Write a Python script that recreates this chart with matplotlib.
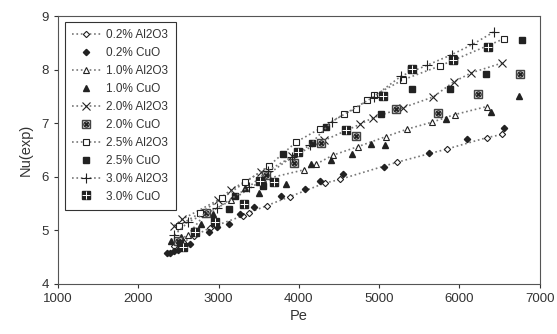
import matplotlib.pyplot as plt
from matplotlib.legend_handler import HandlerTuple

plt.rcParams['font.family'] = ['Liberation Sans', 'DejaVu Sans']

# 0.2 % Al2O3 (open diamond)
pe_a02 = [2450, 2560, 2700, 2900, 3300, 3380, 3600, 3890, 4320, 4510, 5220, 5850, 6340, 6530]
nu_a02 = [4.70, 4.78, 4.90, 5.05, 5.27, 5.33, 5.46, 5.63, 5.88, 5.95, 6.27, 6.52, 6.73, 6.79]
# 0.2 % CuO (filled diamond)
pe_c02 = [2360, 2400, 2450, 2493, 2550, 2650, 2879, 2980, 3136, 3273, 3437, 3782, 4075, 4265,
          4545, 5063, 5617, 6095, 6560]
nu_c02 = [4.57, 4.58, 4.62, 4.63, 4.68, 4.75, 4.96, 5.06, 5.12, 5.31, 5.43, 5.64, 5.78, 5.93,
          6.05, 6.18, 6.45, 6.71, 6.91]
# 1.0 % Al2O3 (open triangle)
pe_a10 = [2480, 2620, 2830, 3160, 3560, 4066, 4208, 4420, 4731, 5085, 5351, 5661, 5940, 6339]
nu_a10 = [4.78, 4.92, 5.30, 5.56, 5.95, 6.13, 6.23, 6.40, 6.56, 6.75, 6.89, 7.02, 7.16, 7.31]
# 1.0 % CuO (filled triangle)
pe_c10 = [2404, 2537, 2781, 2927, 3335, 3499, 3844, 4146, 4398, 4664, 4899, 5072, 5829, 6392, 6747]
nu_c10 = [4.81, 4.88, 5.11, 5.31, 5.79, 5.70, 5.87, 6.23, 6.31, 6.43, 6.61, 6.60, 7.08, 7.20, 7.51]
# 2.0 % Al2O3 (x)
pe_a20 = [2449, 2551, 2989, 3158, 3534, 3588, 3920, 4318, 4762, 4921, 5298, 5674, 5927, 6148, 6525]
nu_a20 = [5.09, 5.21, 5.56, 5.76, 6.09, 6.01, 6.38, 6.68, 6.98, 7.10, 7.29, 7.49, 7.77, 7.94, 8.12]
# 2.0 % CuO (boxed circle cross)
pe_c20 = [2493, 2848, 3592, 3942, 4279, 4708, 5209, 5728, 6237, 6755]
nu_c20 = [4.81, 5.32, 6.03, 6.26, 6.63, 6.76, 7.26, 7.19, 7.54, 7.92]
# 2.5 % Al2O3 (open square)
pe_a25 = [2506, 2768, 3047, 3335, 3632, 3969, 4265, 4562, 4708, 4855, 4939, 5298, 5759, 6560]
nu_a25 = [5.09, 5.32, 5.60, 5.90, 6.21, 6.65, 6.90, 7.17, 7.27, 7.43, 7.52, 7.81, 8.07, 8.58]
# 2.5 % CuO (filled square)
pe_c25 = [2515, 2701, 3136, 3202, 3548, 3800, 4159, 4341, 5027, 5395, 5404, 5883, 5930, 6330, 6778]
nu_c25 = [4.77, 4.98, 5.39, 5.64, 5.83, 6.42, 6.63, 6.92, 7.18, 8.02, 7.64, 7.64, 8.17, 7.91, 8.55]
# 3.0 % Al2O3 (+)
pe_a30 = [2449, 2626, 2980, 3379, 3610, 3911, 4133, 4412, 4930, 5275, 5595, 5905, 6162, 6436]
nu_a30 = [4.91, 5.16, 5.41, 5.81, 6.11, 6.37, 6.59, 7.03, 7.49, 7.88, 8.08, 8.28, 8.47, 8.71]
# 3.0 % CuO (quartered square)
pe_c30 = [2560, 2706, 2958, 3317, 3512, 3690, 3986, 4589, 5050, 5404, 5918, 6361]
nu_c30 = [4.69, 4.97, 5.16, 5.49, 5.93, 5.90, 6.46, 6.87, 7.50, 8.02, 8.17, 8.42]

labels = ['0.2% Al2O3', '0.2% CuO', '1.0% Al2O3', '1.0% CuO', '2.0% Al2O3',
          '2.0% CuO', '2.5% Al2O3', '2.5% CuO', '3.0% Al2O3', '3.0% CuO']

mk = '#222222'
ln = '#777777'
fig = plt.figure(figsize=(5.57, 3.34), dpi=100)
ax = fig.add_axes([0.104, 0.150, 0.865, 0.802])

line_kw = dict(color=ln, linestyle=':', linewidth=1.2, markeredgecolor=mk, markeredgewidth=0.8)
h = []
h.append(ax.plot(pe_a02, nu_a02, marker='D', markersize=3.2, markerfacecolor='white', **line_kw)[0])
h.append(ax.plot(pe_c02, nu_c02, 'D', markersize=3.2, color=mk)[0])
h.append(ax.plot(pe_a10, nu_a10, marker='^', markersize=4.5, markerfacecolor='white', **line_kw)[0])
h.append(ax.plot(pe_c10, nu_c10, '^', markersize=4.5, color=mk)[0])
h.append(ax.plot(pe_a20, nu_a20, marker='x', markersize=5.5, markerfacecolor='white', **line_kw)[0])
b1 = ax.plot(pe_c20, nu_c20, 's', markersize=5.5, color='#444444', markerfacecolor='#dddddd')[0]
b2 = ax.plot(pe_c20, nu_c20, 'o', markersize=3.8, markerfacecolor='none', markeredgecolor=mk, markeredgewidth=0.8)[0]
b3 = ax.plot(pe_c20, nu_c20, 'x', markersize=3.5, color=mk, markeredgewidth=1.0)[0]
h.append((b1, b2, b3))
h.append(ax.plot(pe_a25, nu_a25, marker='s', markersize=5, markerfacecolor='white', **line_kw)[0])
h.append(ax.plot(pe_c25, nu_c25, 's', markersize=5, color=mk)[0])
h.append(ax.plot(pe_a30, nu_a30, marker='+', markersize=6.5, **line_kw)[0])
q1 = ax.plot(pe_c30, nu_c30, 's', markersize=5.5, color=mk)[0]
q2 = ax.plot(pe_c30, nu_c30, '+', markersize=6, color='white', markeredgewidth=0.7)[0]
h.append((q1, q2))

ax.set_xlim(1000, 7000)
ax.set_ylim(4, 9)
ax.set_xticks(range(1000, 7001, 1000))
ax.set_yticks(range(4, 10))
for s in ax.spines.values():
    s.set_color('#555555')
ax.tick_params(direction='out', length=3, labelsize=9.5, colors='#333333')
ax.set_xlabel('Pe', fontsize=10.5, color='#333333', labelpad=3)
ax.set_ylabel('Nu(exp)', fontsize=10.5, color='#333333', labelpad=6)

leg = ax.legend(h, labels, loc='upper left', bbox_to_anchor=(0.01, 0.985), numpoints=1,
                fontsize=8.5, frameon=True, fancybox=False, edgecolor='black',
                handlelength=2.4, handletextpad=0.5, labelspacing=0.5, borderpad=0.6,
                borderaxespad=0.2, handler_map={tuple: HandlerTuple(ndivide=1)})
leg.get_frame().set_linewidth(0.8)
for t in leg.get_texts():
    t.set_color('#333333')

fig.savefig('out.png', dpi=100)
